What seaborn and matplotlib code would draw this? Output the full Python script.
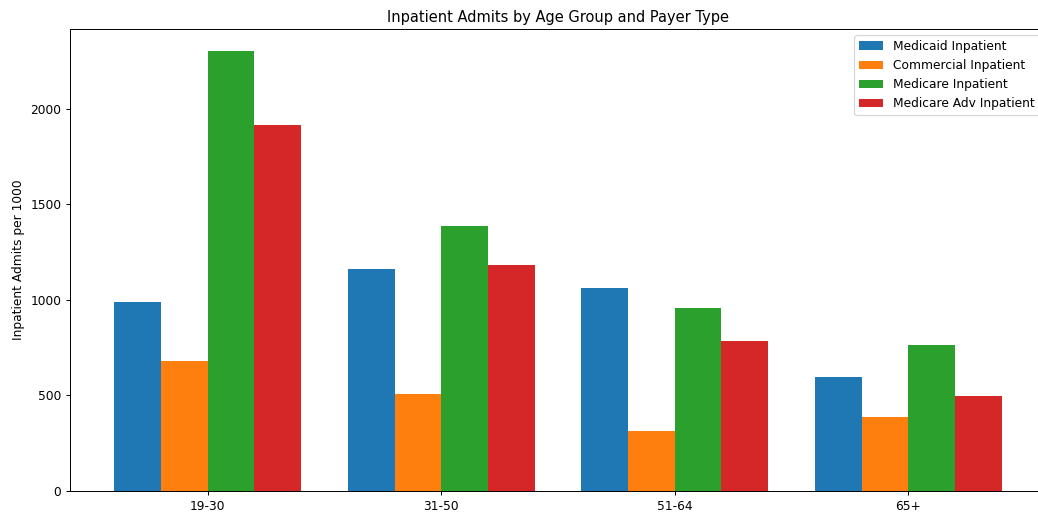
import pandas as pd
from matplotlib import pyplot as plt
import seaborn as sns

age_groups = ["19-30", "31-50", "51-64", "65+"]
payers = ["Medicaid Inpatient", "Commercial Inpatient", "Medicare Inpatient", "Medicare Adv Inpatient"]
medicaid = [990, 1162, 1063, 598]
commercial = [682, 508, 316, 388]
medicare = [2303, 1388, 959, 765]
medicare_adv = [1916, 1184, 785, 497]

values = [medicaid, commercial, medicare, medicare_adv]
rows = []
for payer, series in zip(payers, values):
    for age, v in zip(age_groups, series):
        rows.append({"age": age, "payer": payer, "admits": v})
df = pd.DataFrame(rows)

# reference looks like a larger figure shrunk down, so use a lower dpi
dpi = 88
fig = plt.figure(figsize=(1038 / dpi, 515 / dpi), dpi=dpi)
ax = fig.add_axes([70 / 1038, 1 - 491 / 515, (1046 - 70) / 1038, (491 - 29) / 515])
sns.barplot(data=df, x="age", y="admits", hue="payer", order=age_groups, hue_order=payers,
            palette=["#1f77b4", "#ff7f0e", "#2ca02c", "#d62728"], saturation=1,
            width=0.8, linewidth=0, errorbar=None, ax=ax)
ax.set_xlim(-0.59, 3.59)
ax.set_ylim(0, 2418)
ax.set_xlabel("")
ax.set_ylabel("Inpatient Admits per 1000")
ax.set_title("Inpatient Admits by Age Group and Payer Type")
ax.legend(loc="upper right")

fig.savefig("out.png", dpi=dpi)
